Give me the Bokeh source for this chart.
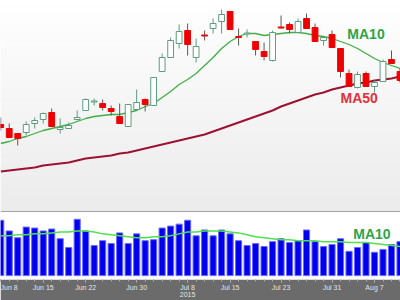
import numpy as np
from bokeh.plotting import figure
from bokeh.layouts import column
from bokeh.models import Range1d, FixedTicker, ColumnDataSource
from bokeh.core.properties import value
from bokeh.embed import file_html
from bokeh.resources import INLINE

# ---- data (trading-day index 0 = Jun 8 2015) ----
opens  = [47.6, 47.2, 46.7, 46.8, 47.7, 48.1, 48.8, 47.1, 47.2, 48.1,
          49.0, 49.85, 49.7, 49.2, 48.4, 47.4, 49.1, 50.1, 49.5, 52.9,
          54.3, 55.7, 57.0, 54.3, 56.55, 57.2, 57.9, 58.9, 56.4, 56.65,
          55.9, 54.9, 54.0, 57.35, 57.6, 56.8, 58.2, 57.3, 56.0, 56.6,
          55.2, 52.7, 51.3, 52.7, 51.4, 51.9, 54.1, 52.9]
closes = [47.3, 46.3, 46.2, 47.6, 48.0, 48.7, 47.4, 47.3, 47.5, 48.3,
          50.1, 49.95, 49.3, 48.9, 47.7, 49.6, 49.8, 49.6, 52.3, 54.3,
          56.0, 56.9, 55.6, 55.4, 56.45, 57.7, 58.6, 57.1, 56.3, 56.75,
          55.1, 54.4, 56.8, 57.25, 57.1, 57.9, 57.2, 55.9, 56.3, 55.3,
          52.9, 51.4, 52.6, 51.4, 51.8, 53.9, 53.7, 52.0]
highs  = [48.3, 47.7, 46.7, 47.9, 48.3, 48.8, 49.2, 48.2, 47.8, 49.0,
          50.2, 50.2, 50.1, 49.5, 49.7, 49.6, 51.1, 50.2, 52.3, 54.7,
          56.3, 57.6, 57.7, 56.2, 57.0, 58.2, 59.1, 58.9, 57.2, 57.1,
          55.9, 55.8, 57.0, 58.5, 57.8, 58.2, 58.7, 57.7, 56.3, 57.0,
          55.2, 53.1, 52.9, 52.9, 52.0, 54.1, 55.0, 53.2]
lows   = [47.0, 46.3, 45.5, 46.5, 47.2, 47.7, 47.4, 46.7, 47.2, 48.0,
          49.0, 49.5, 49.0, 48.5, 47.7, 47.4, 49.0, 48.9, 49.5, 52.9,
          54.3, 55.2, 54.5, 53.8, 56.0, 56.7, 56.7, 57.1, 55.5, 56.3,
          54.5, 54.0, 53.9, 57.2, 56.7, 56.8, 57.2, 55.9, 55.5, 55.3,
          52.3, 51.4, 51.2, 51.4, 50.8, 51.9, 53.7, 51.8]
ma10   = [45.7, 45.9, 46.2, 46.4, 46.7, 47.0, 47.2, 47.4, 47.6, 47.9,
          48.2, 48.4, 48.5, 48.6, 48.6, 48.8, 49.0, 49.4, 49.7, 50.3,
          50.9, 51.6, 52.1, 52.7, 53.5, 54.3, 55.2, 55.9, 56.4, 56.7,
          56.7, 56.5, 56.6, 56.7, 56.8, 56.8, 56.7, 56.5, 56.4, 56.2,
          55.9, 55.6, 55.2, 54.7, 54.2, 53.8, 53.5, 53.2]
ma50   = [42.9, 43.0, 43.1, 43.2, 43.3, 43.5, 43.6, 43.7, 43.8, 44.0,
          44.2, 44.3, 44.4, 44.5, 44.7, 44.8, 45.0, 45.2, 45.4, 45.6,
          45.8, 46.0, 46.2, 46.4, 46.6, 46.9, 47.2, 47.5, 47.8, 48.1,
          48.4, 48.7, 49.0, 49.4, 49.7, 50.0, 50.3, 50.6, 50.8, 51.1,
          51.3, 51.5, 51.7, 51.8, 52.0, 52.1, 52.2, 52.4]
volume = [5.7, 4.6, 3.9, 5.0, 4.9, 4.6, 4.8, 3.8, 2.9, 5.8,
          4.6, 3.1, 3.6, 3.3, 4.4, 3.3, 4.3, 3.6, 3.7, 4.9,
          5.1, 5.3, 5.7, 4.1, 4.7, 4.1, 4.7, 4.3, 3.6, 3.1,
          3.3, 3.0, 3.5, 3.8, 3.4, 3.6, 4.7, 3.5, 3.0, 3.2,
          3.8, 2.5, 2.9, 3.4, 2.4, 2.7, 3.2, 3.5]
vol_ma10 = [4.1, 4.1, 4.2, 4.2, 4.3, 4.3, 4.4, 4.5, 4.5, 4.6,
            4.6, 4.5, 4.3, 4.2, 4.1, 4.0, 3.9, 3.9, 4.0, 4.0,
            4.1, 4.3, 4.5, 4.5, 4.6, 4.6, 4.6, 4.5, 4.4, 4.2,
            4.0, 3.9, 3.8, 3.7, 3.7, 3.6, 3.6, 3.6, 3.5, 3.5,
            3.5, 3.4, 3.4, 3.4, 3.3, 3.2, 3.1, 3.0]
tick_idx = [0, 5, 10, 16, 22, 27, 33, 39, 44]
tick_labels = ["Jun 8", "Jun 15", "Jun 22", "Jun 30", "Jul 8\n2015",
               "Jul 15", "Jul 23", "Jul 31", "Aug 7"]

n = len(opens)
idx = list(range(n))
up = [c >= o for o, c in zip(opens, closes)]

src = ColumnDataSource(dict(
    x=idx, o=opens, c=closes, h=highs, l=lows,
    top=[max(o, c) for o, c in zip(opens, closes)],
    bot=[min(o, c) for o, c in zip(opens, closes)],
    fill=["#ffffff" if u else "#ee0000" for u in up],
    line=["#5e9c80" if u else "#ee0000" for u in up],
    wick=["#5e9c80" if u else "#5a5a5a" for u in up],
    ma10=ma10, ma50=ma50, vol=volume, vma=vol_ma10,
))

X0, X1 = -0.027, 47.06
P0, P1 = 39.0, 60.0
V0, V1 = -0.4, 6.5
xr = Range1d(X0, X1)

# ---- price panel ----
p = figure(width=400, height=212, x_range=xr, y_range=Range1d(P0, P1),
           output_backend="svg", toolbar_location=None,
           x_axis_type=None, y_axis_type=None,
           min_border_left=0, min_border_right=0, min_border_top=0,
           min_border_bottom=2, border_fill_color="#a4a4a4",
           outline_line_color=None)
p.grid.visible = False

g = np.linspace(236, 255, 64).astype(np.uint8)
img = np.zeros((64, 1), dtype=np.uint32)
view = img.view(dtype=np.uint8).reshape((64, 1, 4))
view[:, 0, 0] = g
view[:, 0, 1] = g
view[:, 0, 2] = g
view[:, 0, 3] = 255
p.image_rgba(image=[img], x=X0, y=P0, dw=X1 - X0, dh=P1 - P0)

p.line("x", "ma50", source=src, line_color="#9c1230", line_width=2.0)
p.line("x", "ma10", source=src, line_color="#3fae45", line_width=1.3)
p.segment("x", "h", "x", "l", source=src, line_color="wick", line_width=1)
p.vbar(x="x", top="top", bottom="bot", width=0.68, source=src,
       fill_color="fill", line_color="line", line_width=1)

p.text(x=[40.8], y=[56.7], text=["MA10"], text_color="#2fa24a",
       text_font=value("Liberation Sans"), text_font_style="bold",
       text_font_size="14px", text_baseline="middle", text_align="left")
p.text(x=[40.0], y=[50.25], text=["MA50"], text_color="#e2303c",
       text_font=value("Liberation Sans"), text_font_style="bold",
       text_font_size="14px", text_baseline="middle", text_align="left")

# ---- volume panel ----
v = figure(width=400, height=88, x_range=xr, y_range=Range1d(V0, V1),
           output_backend="svg", toolbar_location=None, y_axis_type=None,
           min_border_left=0, min_border_right=0, min_border_top=0,
           min_border_bottom=0,
           border_fill_color="#6b6b6b", background_fill_color="#ffffff",
           outline_line_color=None)
v.grid.visible = False
v.vbar(x="x", top="vol", bottom=0, width=0.72, source=src,
       fill_color="#0000ee", line_color="#6a6aff", line_width=1)
v.line("x", "vma", source=src, line_color="#4fe04f", line_width=1.5)
v.text(x=[41.5], y=[4.25], text=["MA10"], text_color="#2fa24a",
       text_font=value("Liberation Sans"), text_font_style="bold",
       text_font_size="14px", text_baseline="middle", text_align="left")

ax = v.xaxis[0]
ax.ticker = FixedTicker(ticks=tick_idx, minor_ticks=idx)
ax.major_label_overrides = {i: t for i, t in zip(tick_idx, tick_labels)}
ax.major_label_text_font = "Liberation Sans"
ax.major_label_text_font_size = "7px"
ax.major_label_text_line_height = 1.0
ax.major_label_text_color = "#e4e4e4"
ax.major_label_standoff = 1
ax.axis_line_color = None
ax.major_tick_line_color = "#bdbdbd"
ax.minor_tick_line_color = "#a8a8a8"
ax.major_tick_out = 3
ax.major_tick_in = 0
ax.minor_tick_out = 2
ax.minor_tick_in = 0

layout = column(p, v, spacing=0)
open("out.html", "w").write(file_html(layout, INLINE))
